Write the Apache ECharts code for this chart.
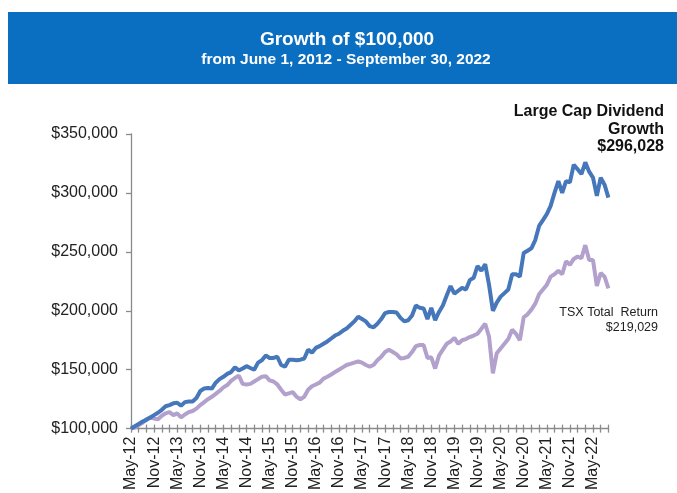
<!DOCTYPE html>
<html>
<head>
<meta charset="utf-8">
<script src="https://cdn.jsdelivr.net/npm/echarts@6/dist/echarts.min.js"></script>
<style>
html,body{margin:0;padding:0;background:#fff;}
#chart{width:677px;height:493px;}
</style>
</head>
<body>
<div id="chart"></div>
<script>
// Month categories (end of month), May-12 .. Sep-22
var categories = [
'May-12','Jun-12','Jul-12','Aug-12','Sep-12','Oct-12','Nov-12','Dec-12',
'Jan-13','Feb-13','Mar-13','Apr-13','May-13','Jun-13','Jul-13','Aug-13','Sep-13','Oct-13','Nov-13','Dec-13',
'Jan-14','Feb-14','Mar-14','Apr-14','May-14','Jun-14','Jul-14','Aug-14','Sep-14','Oct-14','Nov-14','Dec-14',
'Jan-15','Feb-15','Mar-15','Apr-15','May-15','Jun-15','Jul-15','Aug-15','Sep-15','Oct-15','Nov-15','Dec-15',
'Jan-16','Feb-16','Mar-16','Apr-16','May-16','Jun-16','Jul-16','Aug-16','Sep-16','Oct-16','Nov-16','Dec-16',
'Jan-17','Feb-17','Mar-17','Apr-17','May-17','Jun-17','Jul-17','Aug-17','Sep-17','Oct-17','Nov-17','Dec-17',
'Jan-18','Feb-18','Mar-18','Apr-18','May-18','Jun-18','Jul-18','Aug-18','Sep-18','Oct-18','Nov-18','Dec-18',
'Jan-19','Feb-19','Mar-19','Apr-19','May-19','Jun-19','Jul-19','Aug-19','Sep-19','Oct-19','Nov-19','Dec-19',
'Jan-20','Feb-20','Mar-20','Apr-20','May-20','Jun-20','Jul-20','Aug-20','Sep-20','Oct-20','Nov-20','Dec-20',
'Jan-21','Feb-21','Mar-21','Apr-21','May-21','Jun-21','Jul-21','Aug-21','Sep-21','Oct-21','Nov-21','Dec-21',
'Jan-22','Feb-22','Mar-22','Apr-22','May-22','Jun-22','Jul-22','Aug-22','Sep-22'
];

// Values in thousands of dollars
var largeCapDividendGrowth = [
100,102,104,106,107.5,109.5,111.5,113.5,116,119,
120,121.5,122,119.5,122.5,123,123,126,132,134,
134.5,134,139,142,144,146.5,148,152,149.5,151,
153,151.5,150,156,158,162,160,160,161,154,
152.5,158.5,158.5,158,158.5,159.5,167,164.5,168.5,170,
172,174,176.5,179,180.5,183,185,188,191,195,
193,191,187,186,189,193,198,199,199,198.5,
194,191,192,196,204.5,202.5,202,193,202.5,192,
199,204.5,213,221,214.5,217,219.5,218,226,228,
238,234,239.5,222,200,207,212,215,218,231,
231,229,249,251,253,260,272,277,282,289,
300,310,300,310,309,324,320,316,326,318,
313,297.5,313,307,296.028
];

var tsxTotalReturn = [
100,101,103,105,108,109.5,108.5,108,111,113,
114,111.5,113,109.5,112,114,115,117,120,122.5,
125,127,129.5,132,135,137,140.5,143,145,138,
137.5,138,140,142,144,144.5,141,140,137.5,133,
129,130,131,127,125,127,133,136,137.5,139,
142.5,144,146,148,150,152,154,155,156,157,
156,154,152.7,154,158,161,165,167,165,163,
159.6,160,161,165,170,171,171,160,160.5,151,
162,167,172,174,177,172,175,176,177.7,179,
180.5,184.7,189,178,147,164,168,172,176,184,
180.5,175,194.5,197,201,206,214,218,222,229,
231,234,231,242,239,244,246,244.6,255.7,243,
243,221,232,229,219.029
];

var yTicks = [100, 150, 200, 250, 300, 350];
var seriesNames = ['Large Cap Dividend Growth', 'TSX Total Return'];
var endLabels = ['$296,028', '$219,029'];

function money(v) {
  return '$' + v.toFixed(0) + ',000';
}

var FONT = '"Liberation Sans", Arial, sans-serif';
var chart = echarts.init(document.getElementById('chart'), null, {renderer: 'canvas'});

var option = {
  animation: false,
  backgroundColor: '#ffffff',
  textStyle: {fontFamily: FONT},
  grid: {left: 131, right: 68.6, top: 134, bottom: 60, containLabel: false},
  xAxis: [{
    type: 'category',
    data: categories,
    boundaryGap: false,
    position: 'bottom',
    axisLine: {show: true, lineStyle: {color: '#8a8a8a', width: 1.3}},
    axisTick: {show: true, interval: 1, length: 4, inside: false, lineStyle: {color: '#8a8a8a', width: 1.3}},
    axisLabel: {show: true, interval: 5, rotate: 90, margin: 8, color: '#222', fontSize: 16, fontFamily: FONT},
    splitLine: {show: false}
  }, {
    type: 'category',
    data: categories,
    boundaryGap: false,
    position: 'bottom',
    offset: 0,
    axisLine: {show: false},
    axisTick: {show: true, interval: 1, length: 4, inside: true, lineStyle: {color: '#8a8a8a', width: 1.3}},
    axisLabel: {show: false},
    splitLine: {show: false}
  }],
  yAxis: {
    type: 'value',
    min: yTicks[0],
    max: yTicks[yTicks.length - 1],
    interval: 50,
    axisLine: {show: true, lineStyle: {color: '#8a8a8a', width: 1.3}},
    axisTick: {show: true, length: 5, lineStyle: {color: '#8a8a8a', width: 1.3}},
    axisLabel: {margin: 13, color: '#222', fontSize: 16, fontFamily: FONT, formatter: money},
    splitLine: {show: false}
  },
  series: [{
    name: seriesNames[1],
    type: 'line',
    xAxisIndex: 0,
    data: tsxTotalReturn,
    showSymbol: false,
    symbol: 'none',
    lineStyle: {color: '#B2A1CC', width: 4},
    itemStyle: {color: '#B2A1CC'},
    z: 2
  }, {
    name: seriesNames[0],
    type: 'line',
    xAxisIndex: 0,
    data: largeCapDividendGrowth,
    showSymbol: false,
    symbol: 'none',
    lineStyle: {color: '#4677BA', width: 4},
    itemStyle: {color: '#4677BA'},
    z: 3
  }],
  graphic: [{
    type: 'rect',
    shape: {x: 8, y: 12, width: 669, height: 72},
    style: {fill: '#0A6EC1'},
    z: 10
  }, {
    type: 'text',
    x: 347, y: 40,
    style: {text: 'Growth of $100,000', fill: '#ffffff', font: 'bold 19px ' + FONT, textAlign: 'center', textVerticalAlign: 'middle'},
    z: 11
  }, {
    type: 'text',
    x: 346, y: 60,
    style: {text: 'from June 1, 2012 - September 30, 2022', fill: '#ffffff', font: 'bold 15.5px ' + FONT, textAlign: 'center', textVerticalAlign: 'middle'},
    z: 11
  }, {
    type: 'text',
    x: 664, y: 112,
    style: {text: 'Large Cap Dividend', fill: '#111', font: 'bold 16px ' + FONT, textAlign: 'right', textVerticalAlign: 'middle'},
    z: 11
  }, {
    type: 'text',
    x: 664, y: 130,
    style: {text: 'Growth', fill: '#111', font: 'bold 16px ' + FONT, textAlign: 'right', textVerticalAlign: 'middle'},
    z: 11
  }, {
    type: 'text',
    x: 664, y: 147,
    style: {text: endLabels[0], fill: '#111', font: 'bold 16px ' + FONT, textAlign: 'right', textVerticalAlign: 'middle'},
    z: 11
  }, {
    type: 'text',
    x: 658, y: 313,
    style: {text: 'TSX Total  Return', fill: '#222', font: '12.5px ' + FONT, textAlign: 'right', textVerticalAlign: 'middle'},
    z: 11
  }, {
    type: 'text',
    x: 658, y: 328,
    style: {text: endLabels[1], fill: '#222', font: '12.5px ' + FONT, textAlign: 'right', textVerticalAlign: 'middle'},
    z: 11
  }]
};
chart.setOption(option);
</script>
</body>
</html>
